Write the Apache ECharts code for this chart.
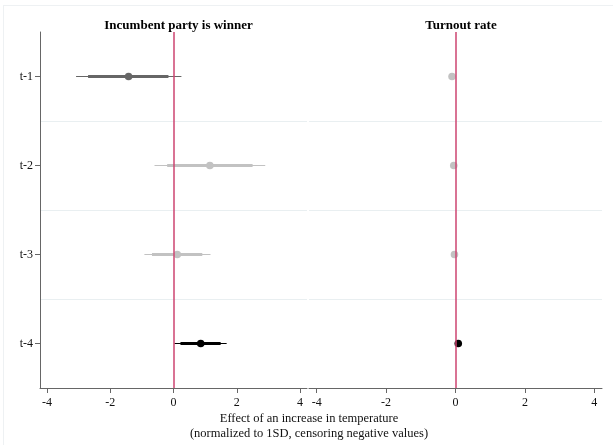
<!DOCTYPE html>
<html>
<head>
<meta charset="utf-8">
<script src="https://cdn.jsdelivr.net/npm/echarts@6/dist/echarts.min.js"></script>
<style>html,body{margin:0;padding:0;background:#fff}#c{width:613px;height:445px}</style>
</head>
<body>
<div id="c"></div>
<script>
// ---- data ----
const categories = ['t-1', 't-2', 't-3', 't-4'];
const xTicks = [-4, -2, 0, 2, 4];
const panelTitles = ['Incumbent party is winner', 'Turnout rate'];
const xTitleLines = ['Effect of an increase in temperature', '(normalized to 1SD, censoring negative values)'];

// Incumbent party is winner
const incEst     = [-1.42, 1.15, 0.12, 0.86];
const incThinLo  = [-3.08, -0.60, -0.92, 0.03];
const incThinHi  = [0.25, 2.90, 1.17, 1.68];
const incThickLo = [-2.70, -0.20, -0.68, 0.22];
const incThickHi = [-0.16, 2.50, 0.91, 1.49];

// Turnout rate
const turnEst     = [-0.10, -0.05, -0.03, 0.08];
const turnThinLo  = [-0.13, -0.08, -0.06, 0.05];
const turnThinHi  = [-0.07, -0.02, 0.00, 0.11];
const turnThickLo = [-0.12, -0.07, -0.05, 0.06];
const turnThickHi = [-0.08, -0.03, -0.01, 0.10];

// marker colours by row (significance shading)
const incColors  = ['#666666', '#c2c2c2', '#c2c2c2', '#000000'];
const turnColors = ['#c2c2c2', '#c2c2c2', '#c2c2c2', '#000000'];

const FONT = 'Liberation Serif';

function buildData(est, tlo, thi, klo, khi) {
  return categories.map((c, i) => [est[i], i, tlo[i], thi[i], klo[i], khi[i]]);
}

function makeRender(colors) {
  return function (params, api) {
    const est = api.value(0), idx = api.value(1);
    const tlo = api.value(2), thi = api.value(3), klo = api.value(4), khi = api.value(5);
    const color = colors[idx];
    const p = api.coord([est, idx]);
    const a = api.coord([tlo, idx]), b = api.coord([thi, idx]);
    const c = api.coord([klo, idx]), d = api.coord([khi, idx]);
    return {
      type: 'group',
      children: [
        { type: 'line', shape: { x1: a[0], y1: a[1], x2: b[0], y2: b[1] }, style: { stroke: color, lineWidth: 1 } },
        { type: 'line', shape: { x1: c[0], y1: c[1], x2: d[0], y2: d[1] }, style: { stroke: color, lineWidth: 3 } },
        { type: 'circle', shape: { cx: p[0], cy: p[1], r: 3.8 }, style: { fill: color } }
      ]
    };
  };
}

const axisGrey = '#666666';
function xAxisDef(gi) {
  return {
    type: 'value', gridIndex: gi, min: -4.22, max: 4.22,
    axisLine: { show: true, onZero: false, lineStyle: { color: axisGrey, width: 1 } },
    axisTick: { show: true, length: 5, customValues: xTicks, lineStyle: { color: axisGrey } },
    axisLabel: { customValues: xTicks, color: '#111', fontFamily: FONT, fontSize: 12, margin: 9 },
    splitLine: { show: false }
  };
}
function yAxisDef(gi, showAxis) {
  return {
    type: 'category', gridIndex: gi, data: categories, inverse: true,
    axisLine: { show: showAxis, onZero: false, lineStyle: { color: axisGrey, width: 1 } },
    axisTick: { show: showAxis, alignWithLabel: true, length: 5, lineStyle: { color: axisGrey } },
    axisLabel: { show: showAxis, color: '#111', fontFamily: FONT, fontSize: 12, margin: 7 },
    splitLine: {
      show: true,
      interval: function (index) { return index > 0; },
      lineStyle: { color: '#e9eff1', width: 1 }
    }
  };
}
function zeroLine() {
  return {
    silent: true, symbol: 'none', label: { show: false },
    lineStyle: { color: '#cc4470', width: 1.5, type: 'solid' },
    data: [{ xAxis: 0 }]
  };
}

const chart = echarts.init(document.getElementById('c'), null, { renderer: 'canvas' });
chart.setOption({
  animation: false,
  backgroundColor: '#ffffff',
  title: [
    { text: panelTitles[0], left: 173.5, top: 14, textAlign: 'center',
      textStyle: { fontFamily: FONT, fontSize: 13, fontWeight: 'bold', color: '#000' } },
    { text: panelTitles[1], left: 456, top: 14, textAlign: 'center',
      textStyle: { fontFamily: FONT, fontSize: 13, fontWeight: 'bold', color: '#000' } }
  ],
  grid: [
    { left: 40, right: 306, top: 32, bottom: 57 },
    { left: 309, right: 11, top: 32, bottom: 57 }
  ],
  xAxis: [xAxisDef(0), xAxisDef(1)],
  yAxis: [yAxisDef(0, true), yAxisDef(1, false)],
  graphic: [
    { type: 'line', silent: true, shape: { x1: 3, y1: 5.5, x2: 613, y2: 5.5 }, style: { stroke: '#eef1f3', lineWidth: 1 } },
    { type: 'line', silent: true, shape: { x1: 3.5, y1: 5, x2: 3.5, y2: 445 }, style: { stroke: '#eef1f3', lineWidth: 1 } },
    { type: 'text', x: 309, y: 411,
      style: { text: xTitleLines.join('\n'), fontFamily: FONT, fontSize: 12.5, fill: '#111', align: 'center', lineHeight: 15 } }
  ],
  series: [
    { type: 'custom', xAxisIndex: 0, yAxisIndex: 0, renderItem: makeRender(incColors),
      data: buildData(incEst, incThinLo, incThinHi, incThickLo, incThickHi),
      markLine: zeroLine(), z: 3 },
    { type: 'custom', xAxisIndex: 1, yAxisIndex: 1, renderItem: makeRender(turnColors),
      data: buildData(turnEst, turnThinLo, turnThinHi, turnThickLo, turnThickHi),
      markLine: zeroLine(), z: 3 }
  ]
});
</script>
</body>
</html>
